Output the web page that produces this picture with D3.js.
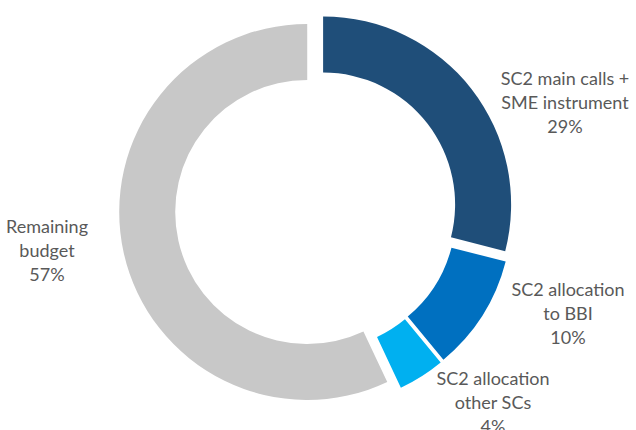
<!DOCTYPE html>
<html>
<head>
<meta charset="utf-8">
<script src="https://cdn.jsdelivr.net/npm/d3@7"></script>
<style>
  html, body { margin: 0; padding: 0; background: #fff; }
  svg { display: block; }
  text { font-family: Lato, "Open Sans", sans-serif; fill: #595959; }
</style>
</head>
<body>
<svg id="chart" width="636" height="430"></svg>
<script>
// Budget shares of the SC2 programme
const categories = [
  "SC2 main calls + SME instrument",
  "SC2 allocation to BBI",
  "SC2 allocation other SCs",
  "Remaining budget"
];
const values = [29, 10, 4, 57];
const labelLines = [
  ["SC2 main calls +", "SME instrument", "29%"],
  ["SC2 allocation", "to BBI", "10%"],
  ["SC2 allocation", "other SCs", "4%"],
  ["Remaining", "budget", "57%"]
];
const colors = ["#1f4e79", "#0070c0", "#00b0f0", "#c8c8c8"];

// Layout
const width = 636, height = 430;
const cx = 316, cy = 210;
const outerR = 188, innerR = 132;
const explode = 9;
// label block centres (middle line), placed beside each slice
const labelPos = [[565, 102], [568, 313], [493, 402], [47, 250]];
const lineGap = 24;

const svg = d3.select("#chart");
const g = svg.append("g").attr("transform", `translate(${cx},${cy})`);

const pie = d3.pie().sort(null).value(d => d.value);
const arc = d3.arc().innerRadius(innerR).outerRadius(outerR);

const data = categories.map((c, i) => ({ name: c, value: values[i], color: colors[i] }));
const arcs = pie(data);

g.selectAll("path.slice")
  .data(arcs)
  .join("path")
  .attr("class", "slice")
  .attr("fill", d => d.data.color)
  .attr("transform", d => {
    const a = (d.startAngle + d.endAngle) / 2;
    return `translate(${explode * Math.sin(a)},${-explode * Math.cos(a)})`;
  })
  .attr("d", arc);

const labels = svg.selectAll("g.label")
  .data(arcs)
  .join("g")
  .attr("class", "label")
  .attr("transform", (d, i) => `translate(${labelPos[i][0]},${labelPos[i][1]})`);

labels.selectAll("text")
  .data((d, i) => labelLines[i].map((t, j, arr) => ({ t, dy: (j - (arr.length - 1) / 2) * lineGap })))
  .join("text")
  .attr("text-anchor", "middle")
  .attr("dominant-baseline", "central")
  .attr("y", d => d.dy)
  .style("font-size", "18px")
  .text(d => d.t);
</script>
</body>
</html>
